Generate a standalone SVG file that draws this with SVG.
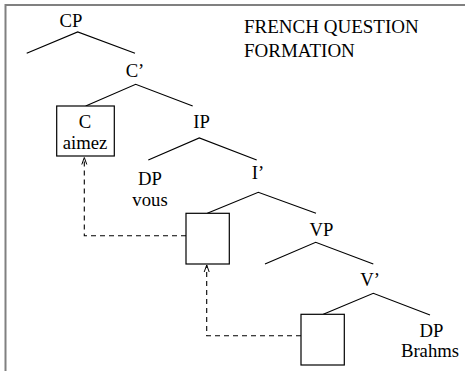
<svg xmlns="http://www.w3.org/2000/svg" width="465" height="371" viewBox="0 0 465 371">
<defs>
<marker id="ah" markerWidth="10" markerHeight="10" refX="8" refY="5" orient="auto" markerUnits="userSpaceOnUse">
<path d="M1,2.5 L8,5 L1,7.5" fill="none" stroke="#000" stroke-width="1"/>
</marker>
</defs>
<style>
text{font-family:"Liberation Serif","Times New Roman",serif;font-size:18.7px;fill:#000;text-anchor:middle}
.t{text-anchor:start;font-size:19px}
.e{stroke:#000;stroke-width:1.2;fill:none}
.b{stroke:#000;stroke-width:1.2;fill:#fff}
.d{stroke:#000;stroke-width:1.1;fill:none;stroke-dasharray:5,4}
.frame{stroke:#808080;stroke-width:2;fill:none}
</style>
<rect width="465" height="371" fill="#fff"/>
<path class="frame" d="M5.5,372 V5 H466"/>
<g id="title" font-family="Liberation Serif, serif"><text class="t" x="244" y="33">FRENCH QUESTION</text><text class="t" x="244" y="57">FORMATION</text></g>
<g id="edges">
<path class="e" d="M26.7,53.3 L77.7,32 L135,53.3"/>
<path class="e" d="M85.7,106 L135.7,84.3 L192.7,106"/>
<path class="e" d="M148.3,160 L199.3,138 L256.7,160"/>
<path class="e" d="M207.3,213.3 L258.3,192.3 L316,213.3"/>
<path class="e" d="M265,264 L315.7,242.3 L373.3,264"/>
<path class="e" d="M323.3,314.3 L373.3,293.3 L430,315"/>
</g>
<g id="CP"><text x="71" y="27">CP</text></g>
<g id="Cbar"><text x="135" y="77">C’</text></g>
<g id="C"><rect class="b" x="56.7" y="106" width="57.6" height="50"/><text x="85" y="128">C</text><text x="85" y="149">aimez</text></g>
<g id="IP"><text x="201.5" y="128">IP</text></g>
<g id="DP1"><text x="150" y="185">DP</text><text x="150" y="206">vous</text></g>
<g id="Ibar"><text x="258" y="179">I’</text></g>
<g id="I"><rect class="b" x="186" y="213.3" width="43.3" height="50.7"/></g>
<g id="VP"><text x="321.5" y="236">VP</text></g>
<g id="Vbar"><text x="370" y="286">V’</text></g>
<g id="V"><rect class="b" x="301" y="314.3" width="43.3" height="50.7"/></g>
<g id="DP2"><text x="431.5" y="336.5">DP</text><text x="430" y="356.5">Brahms</text></g>
<g id="connectors">
<path class="d" d="M186,235.7 H84.3 V157.5" marker-end="url(#ah)"/>
<path class="d" d="M301,335.7 H206.7 V265" marker-end="url(#ah)"/>
</g>
</svg>
